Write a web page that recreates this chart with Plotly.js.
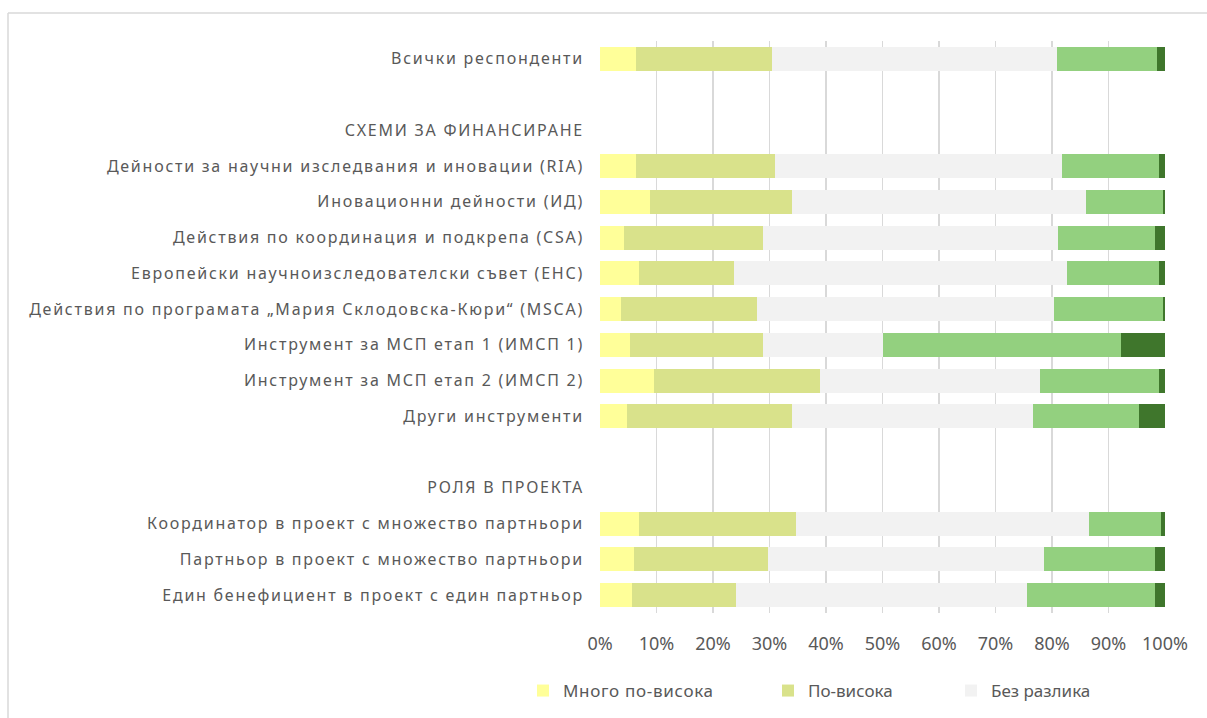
<!DOCTYPE html>
<html>
<head>
<meta charset="utf-8">
<script src="https://cdn.plot.ly/plotly-3.0.1.min.js"></script>
<style>
  html, body { margin: 0; padding: 0; background: #fff; }
  #chart { width: 1207px; height: 718px; }
  .ytick text { letter-spacing: 1.75px; }
  .legendtext { letter-spacing: 0.7px; }
</style>
</head>
<body>
<div id="chart"></div>
<script>
// Full category order, top to bottom (blank rows and section headers included)
const categories = [
  "Всички респонденти",
  " ",
  "СХЕМИ ЗА ФИНАНСИРАНЕ",
  "Дейности за научни изследвания и иновации (RIA)",
  "Иновационни дейности (ИД)",
  "Действия по координация и подкрепа (CSA)",
  "Европейски научноизследователски съвет (ЕНС)",
  "Действия по програмата „Мария Склодовска-Кюри“ (MSCA)",
  "Инструмент за МСП етап 1 (ИМСП 1)",
  "Инструмент за МСП етап 2 (ИМСП 2)",
  "Други инструменти",
  "\u00A0",
  "РОЛЯ В ПРОЕКТА",
  "Координатор в проект с множество партньори",
  "Партньор в проект с множество партньори",
  "Един бенефициент в проект с един партньор"
];

// Rows that carry data
const dataRows = [
  "Всички респонденти",
  "Дейности за научни изследвания и иновации (RIA)",
  "Иновационни дейности (ИД)",
  "Действия по координация и подкрепа (CSA)",
  "Европейски научноизследователски съвет (ЕНС)",
  "Действия по програмата „Мария Склодовска-Кюри“ (MSCA)",
  "Инструмент за МСП етап 1 (ИМСП 1)",
  "Инструмент за МСП етап 2 (ИМСП 2)",
  "Други инструменти",
  "Координатор в проект с множество партньори",
  "Партньор в проект с множество партньори",
  "Един бенефициент в проект с един партньор"
];

const seriesNames = ["Много по-висока", "По-висока", "Без разлика", "По-ниска", "Много по-ниска"];

// Percent values
const muchHigher = [6.3, 6.3, 8.8, 4.3, 6.9, 3.7, 5.3, 9.6, 4.7, 6.9, 6.0, 5.6];
const higher     = [24.2, 24.6, 25.2, 24.6, 16.8, 24.1, 23.6, 29.3, 29.3, 27.8, 23.8, 18.4];
const noDiff     = [50.3, 50.8, 52.0, 52.2, 59.0, 52.6, 21.1, 39.0, 42.6, 51.9, 48.7, 51.6];
const lower      = [17.8, 17.3, 13.6, 17.2, 16.3, 19.2, 42.2, 21.1, 18.8, 12.7, 19.8, 22.7];
const muchLower  = [1.4, 1.0, 0.4, 1.7, 1.0, 0.4, 7.8, 1.0, 4.6, 0.7, 1.7, 1.7];

const xTicks = [0, 10, 20, 30, 40, 50, 60, 70, 80, 90, 100];

const colors = ["#FFFF99", "#D9E28B", "#F2F2F2", "#93D07F", "#3F762C"];
const values = [muchHigher, higher, noDiff, lower, muchLower];
const legendIds = ["legend", "legend2", "legend3", null, null];

const traces = values.map((v, i) => ({
  type: "bar",
  orientation: "h",
  name: seriesNames[i],
  x: v,
  y: dataRows,
  marker: { color: colors[i], line: { width: 0 } },
  showlegend: legendIds[i] !== null,
  legend: legendIds[i] || "legend",
  hoverinfo: "x+name"
}));

const legendFont = { family: "Noto Sans, sans-serif", size: 17, color: "#595959" };
const legendBase = {
  orientation: "h", xref: "container", yref: "container",
  yanchor: "middle", xanchor: "left", y: 1 - 691 / 718,
  font: legendFont, bgcolor: "rgba(0,0,0,0)", borderwidth: 0
};

const layout = {
  width: 1207, height: 718,
  margin: { l: 600, r: 42, t: 41, b: 105 },
  paper_bgcolor: "#ffffff",
  plot_bgcolor: "#ffffff",
  barmode: "stack",
  bargap: 0.33,
  font: { family: "Noto Sans, sans-serif", color: "#595959" },
  xaxis: {
    range: [0, 100],
    tickvals: xTicks,
    ticktext: xTicks.map(t => t + "%"),
    showgrid: true, gridcolor: "#D9D9D9", gridwidth: 1.3,
    zeroline: false, showline: false, ticks: "",
    ticklabelstandoff: 18,
    tickfont: { family: "Noto Sans, sans-serif", size: 18, color: "#595959" },
    fixedrange: true
  },
  yaxis: {
    type: "category",
    categoryorder: "array",
    categoryarray: categories,
    range: [categories.length - 0.5, -0.5],
    showgrid: false, zeroline: false, showline: false, ticks: "",
    ticklabelstandoff: 15,
    tickfont: { family: "Noto Sans, sans-serif", size: 16, color: "#595959" },
    fixedrange: true
  },
  legend: Object.assign({}, legendBase, { x: 523 / 1207 }),
  legend2: Object.assign({}, legendBase, { x: 768 / 1207 }),
  legend3: Object.assign({}, legendBase, { x: 951 / 1207 }),
  shapes: [
    { type: "line", xref: "paper", yref: "paper",
      x0: (8 - 600) / 565, x1: 2, y0: 1 + 28 / 572, y1: 1 + 28 / 572,
      line: { color: "#D9D9D9", width: 1.5 } },
    { type: "line", xref: "paper", yref: "paper",
      x0: (8 - 600) / 565, x1: (8 - 600) / 565, y0: 1 + 28 / 572, y1: -1,
      line: { color: "#D9D9D9", width: 1.5 } }
  ],
  showlegend: true
};

Plotly.newPlot("chart", traces, layout, { displayModeBar: false, staticPlot: true });
</script>
</body>
</html>
